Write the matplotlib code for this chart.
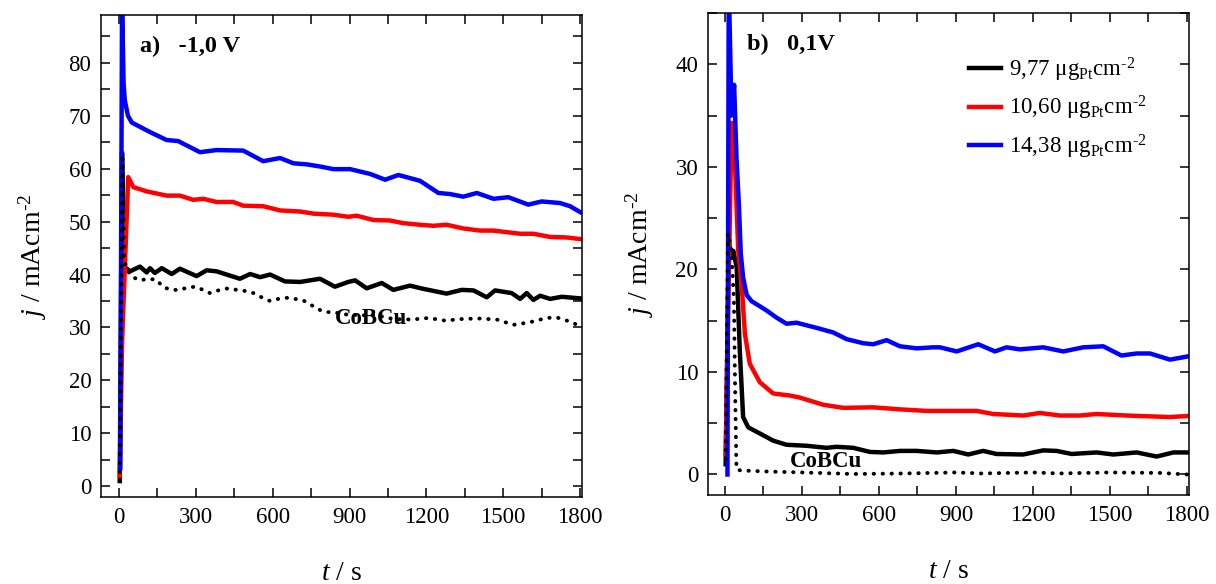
import matplotlib
matplotlib.use("Agg")
import matplotlib.pyplot as plt
from matplotlib.ticker import MultipleLocator

plt.rcParams["font.family"] = ["Liberation Serif", "DejaVu Serif"]
plt.rcParams["mathtext.fontset"] = "custom"
plt.rcParams["mathtext.rm"] = "Liberation Serif"
plt.rcParams["mathtext.it"] = "Liberation Serif:italic"
plt.rcParams["mathtext.bf"] = "Liberation Serif:bold"

# panel a) -1,0 V
t_a_blue = [5, 12, 18, 23, 35, 50, 121, 186, 231, 316, 381, 485, 563, 629, 681, 733, 785, 837,
            902, 980, 1039, 1091, 1175, 1247, 1292, 1344, 1397, 1462, 1520, 1598, 1650, 1722, 1761, 1800]
j_a_blue = [3.5, 92, 76, 72.8, 70, 68.7, 66.9, 65.4, 65.2, 63.1, 63.5, 63.4, 61.4, 62.0, 61.0, 60.8, 60.4, 59.9,
            59.9, 59.0, 57.9, 58.8, 57.7, 55.4, 55.2, 54.7, 55.4, 54.3, 54.6, 53.2, 53.8, 53.5, 52.9, 51.8]

t_a_red = [3, 12, 36, 56, 108, 186, 238, 290, 329, 381, 446, 485, 563, 629, 707, 759, 837, 895, 928,
           993, 1058, 1110, 1175, 1227, 1279, 1344, 1410, 1462, 1514, 1566, 1618, 1683, 1748, 1800]
j_a_red = [2, 27, 58.4, 56.5, 55.7, 54.9, 54.9, 54.1, 54.3, 53.7, 53.7, 53.0, 52.9, 52.1, 51.9, 51.5, 51.3, 50.9, 51.1,
           50.3, 50.2, 49.7, 49.4, 49.2, 49.4, 48.7, 48.3, 48.3, 48.0, 47.7, 47.7, 47.1, 47.0, 46.7]

t_a_black = [3, 12, 20, 23, 43, 82, 108, 121, 140, 167, 206, 238, 303, 342, 381, 472, 512, 551, 590, 648,
             707, 785, 843, 895, 922, 967, 1026, 1071, 1136, 1188, 1279, 1338, 1384, 1436, 1468, 1533,
             1566, 1592, 1618, 1644, 1683, 1729, 1800]
j_a_black = [1, 63, 43, 41.4, 40.6, 41.5, 40.4, 41.2, 40.3, 41.2, 40.1, 41.1, 39.7, 40.8, 40.6, 39.2, 40.1, 39.5, 40.0, 38.7,
             38.6, 39.2, 37.7, 38.6, 38.9, 37.4, 38.4, 37.1, 37.9, 37.3, 36.4, 37.1, 37.0, 35.7, 37.0, 36.5,
             35.4, 36.5, 35.2, 36.0, 35.4, 35.8, 35.5]

t_a_cobcu = [3, 14, 20, 30, 50, 82, 115, 147, 173, 206, 238, 264, 297, 329, 355, 394, 427, 460, 492, 525,
             557, 590, 622, 655, 687, 720, 752, 785, 811, 837, 876, 941, 1006, 1071, 1143, 1208, 1273,
             1338, 1403, 1475, 1540, 1605, 1670, 1709, 1768, 1800]
j_a_cobcu = [1, 62, 43, 41, 39.6, 38.9, 39.2, 39.0, 37.6, 37.1, 37.1, 37.5, 37.7, 37.1, 36.5, 37.1, 37.4, 37.1, 36.9, 36.5,
             35.7, 35.0, 35.4, 35.6, 35.4, 35.1, 34.2, 33.3, 32.9, 32.9, 32.5, 32.3, 32.3, 31.6, 31.5, 31.8, 31.3,
             31.6, 31.7, 31.5, 30.5, 31.0, 31.8, 31.9, 31.0, 30.2]

# panel b) 0,1 V
t_b_blue = [10, 15, 26, 36, 45, 55, 62, 71, 85, 104, 162, 201, 240, 279, 357, 422, 474, 539, 578, 630,
            682, 747, 811, 838, 903, 987, 1052, 1097, 1149, 1240, 1318, 1396, 1474, 1545, 1604, 1656, 1734, 1800]
j_b_blue = [0, 48, 35, 38, 31, 26, 21.5, 19.2, 17.5, 16.9, 16.0, 15.3, 14.7, 14.8, 14.3, 13.85, 13.2, 12.8, 12.7, 13.1,
            12.5, 12.3, 12.4, 12.4, 12.0, 12.7, 12.0, 12.4, 12.2, 12.4, 12.0, 12.4, 12.5, 11.6, 11.8, 11.8, 11.2, 11.5]

t_b_red = [3, 26, 29, 36, 45, 52, 65, 78, 97, 136, 188, 253, 292, 383, 461, 578, 682, 786, 870, 980,
           1045, 1162, 1227, 1305, 1383, 1448, 1565, 1734, 1800]
j_b_red = [2, 34.3, 30.6, 32.2, 26.5, 21.8, 18.6, 13.7, 10.8, 9.0, 7.9, 7.7, 7.5, 6.8, 6.5, 6.55, 6.35, 6.2, 6.2, 6.2,
           5.9, 5.75, 6.0, 5.75, 5.75, 5.9, 5.75, 5.6, 5.7]

t_b_black = [3, 15, 22, 33, 46, 58, 71, 91, 136, 188, 240, 318, 396, 435, 500, 565, 617, 682, 747, 825,
             890, 948, 1006, 1058, 1162, 1240, 1292, 1351, 1448, 1513, 1604, 1682, 1747, 1800]
j_b_black = [1, 23, 21.5, 21.8, 20.2, 12.1, 5.6, 4.6, 4.0, 3.3, 2.9, 2.8, 2.6, 2.7, 2.6, 2.2, 2.15, 2.3, 2.3, 2.15,
             2.3, 1.95, 2.3, 2.0, 1.95, 2.35, 2.3, 2.0, 2.15, 1.95, 2.15, 1.75, 2.15, 2.15]

t_b_cobcu = [3, 12, 25, 35, 40, 45, 60, 150, 300, 500, 700, 900, 1000, 1200, 1300, 1500, 1700, 1800]
j_b_cobcu = [1.5, 23.5, 22, 17, 8, 0.5, 0.4, 0.3, 0.2, 0.05, 0.1, 0.2, 0.1, 0.2, 0.1, 0.2, 0.15, 0.0]

legend_labels = [r"9,77 $\mathrm{\mu g_{Pt}cm}^{\text{-}2}$",
                 r"10,60 $\mathrm{\mu g_{Pt}cm}^{\text{-}2}$",
                 r"14,38 $\mathrm{\mu g_{Pt}cm}^{\text{-}2}$"]

fig = plt.figure(figsize=(12.16, 5.84), dpi=100)
ax1 = fig.add_axes([0.0831, 0.149, 0.3956, 0.8253])
ax2 = fig.add_axes([0.5822, 0.1524, 0.3956, 0.8253])

lw = 3.2
dot = dict(color="black", lw=2.8, linestyle=(0, (0.1, 2.2)), dash_capstyle="round")

ax1.plot(t_a_black, j_a_black, color="black", lw=lw)
ax1.plot(t_a_red, j_a_red, color="#ff0000", lw=lw)
ax1.plot(t_a_blue, j_a_blue, color="#0000ff", lw=lw)
ax1.plot(t_a_cobcu, j_a_cobcu, **dot)

l1, = ax2.plot(t_b_black, j_b_black, color="black", lw=lw)
l2, = ax2.plot(t_b_red, j_b_red, color="#ff0000", lw=lw)
l3, = ax2.plot(t_b_blue, j_b_blue, color="#0000ff", lw=lw)
ax2.plot(t_b_cobcu, j_b_cobcu, **dot)

ax1.set_xlim(-70, 1808)
ax1.set_ylim(-2, 89)
ax2.set_xlim(-66, 1808)
ax2.set_ylim(-2, 45)

for ax in (ax1, ax2):
    ax.xaxis.set_major_locator(MultipleLocator(300))
    ax.xaxis.set_minor_locator(MultipleLocator(150))
    ax.yaxis.set_major_locator(MultipleLocator(10))
    ax.yaxis.set_minor_locator(MultipleLocator(5))
    ax.tick_params(which="both", direction="in", top=True, right=True,
                   length=6.5, width=1.1, labelsize=16.5, pad=7)
    for s in ax.spines.values():
        s.set_linewidth(1.1)
    ax.set_xlabel(r"$t$ / s", fontsize=20, labelpad=24)
    ax.set_ylabel(r"$j$ / mAcm$^{\text{-}2}$", fontsize=20, labelpad=14)

ax1.text(0.081, 0.935, "a)   -1,0 V", transform=ax1.transAxes, fontsize=17.5,
         fontweight="bold", va="center", ha="left")
ax2.text(0.081, 0.935, "b)   0,1V", transform=ax2.transAxes, fontsize=17.5,
         fontweight="bold", va="center", ha="left")
ax1.text(984, 31.7, "CoBCu", fontsize=16.5, fontweight="bold", ha="center", va="center")
ax2.text(393, 1.3, "CoBCu", fontsize=16.5, fontweight="bold", ha="center", va="center")

ax2.legend([l1, l2, l3], legend_labels, loc="upper left", bbox_to_anchor=(0.5, 0.955),
           frameon=False, fontsize=16.5, handlelength=1.4, handletextpad=0.35,
           labelspacing=0.45)

fig.savefig("out.png", dpi=100)
